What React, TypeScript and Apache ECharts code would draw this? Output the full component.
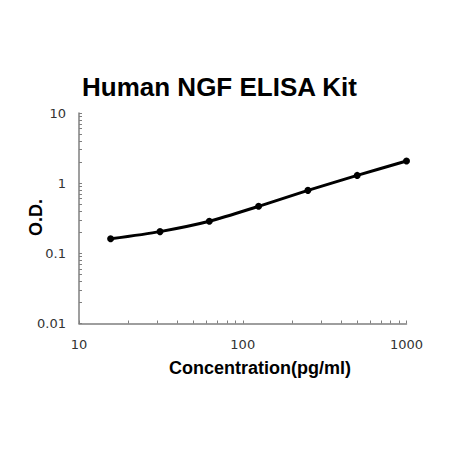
import { useEffect, useRef } from 'react'
import * as echarts from 'echarts'

// ── Standard curve data ───────────────────────────────────────────────────────
const CONCENTRATION = [15.6, 31.25, 62.5, 125, 250, 500, 1000] // pg/ml
const OD = [0.161, 0.204, 0.286, 0.468, 0.79, 1.29, 2.07]

// decade tick marks: 1..9 × 10^n
const X_DECADES = [10, 100]
const Y_DECADES = [0.01, 0.1, 1]
const MULTIPLES = [1, 2, 3, 4, 5, 6, 7, 8, 9]

const ticksFor = (decades: number[], last: number) => [
  ...decades.flatMap(d => MULTIPLES.map(m => +(m * d).toPrecision(3))),
  last,
]

const AXIS_GREY = '#7f7f7f'
const BOLD = 'Liberation Sans, Arial, sans-serif'

export default function App() {
  const chartRef = useRef<HTMLDivElement>(null)

  useEffect(() => {
    if (!chartRef.current) return
    const chart = echarts.init(chartRef.current, undefined, { renderer: 'svg' })

    const axisCommon = {
      type: 'log' as const,
      logBase: 10,
      splitLine: { show: false },
      axisLine: { lineStyle: { color: AXIS_GREY, width: 1.5 } },
      axisTick: { inside: true, length: 3, lineStyle: { color: AXIS_GREY, width: 1 } },
      axisLabel: {
        color: '#333',
        fontSize: 13,
        fontFamily: 'DejaVu Sans, sans-serif',
        formatter: (v: number) => String(+v.toPrecision(3)),
      },
    }

    chart.setOption({
      animation: false,
      backgroundColor: '#fff',
      grid: { left: 79, right: 43.5, top: 113, bottom: 126.5 },
      xAxis: {
        ...axisCommon,
        min: 10,
        max: 1000,
        axisTick: { ...axisCommon.axisTick, customValues: ticksFor(X_DECADES, 1000) },
        axisLabel: { ...axisCommon.axisLabel, margin: 14 },
      },
      yAxis: {
        ...axisCommon,
        min: 0.01,
        max: 10,
        axisTick: { ...axisCommon.axisTick, customValues: ticksFor(Y_DECADES, 10) },
        axisLabel: { ...axisCommon.axisLabel, margin: 13 },
      },
      graphic: [
        {
          type: 'text',
          x: 219.5,
          y: 86.5,
          style: {
            text: 'Human NGF ELISA Kit',
            fill: '#000',
            font: `bold 26px ${BOLD}`,
            align: 'center',
            verticalAlign: 'middle',
          },
        },
        {
          type: 'text',
          x: 260,
          y: 368,
          style: {
            text: 'Concentration(pg/ml)',
            fill: '#000',
            font: `bold 18px ${BOLD}`,
            align: 'center',
            verticalAlign: 'middle',
          },
        },
        {
          type: 'text',
          x: 35.5,
          y: 217.5,
          rotation: Math.PI / 2,
          style: {
            text: 'O.D.',
            fill: '#000',
            font: `bold 18px ${BOLD}`,
            align: 'center',
            verticalAlign: 'middle',
          },
        },
      ],
      series: [
        {
          type: 'line',
          data: CONCENTRATION.map((c, i) => [c, OD[i]]),
          smooth: 0.25,
          symbol: 'circle',
          symbolSize: 7,
          itemStyle: { color: '#000' },
          lineStyle: { color: '#000', width: 3 },
        },
      ],
    })

    return () => chart.dispose()
  }, [])

  return (
    <div
      ref={chartRef}
      style={{ position: 'fixed', left: 0, top: 0, width: 450, height: 450, background: '#fff' }}
    />
  )
}
